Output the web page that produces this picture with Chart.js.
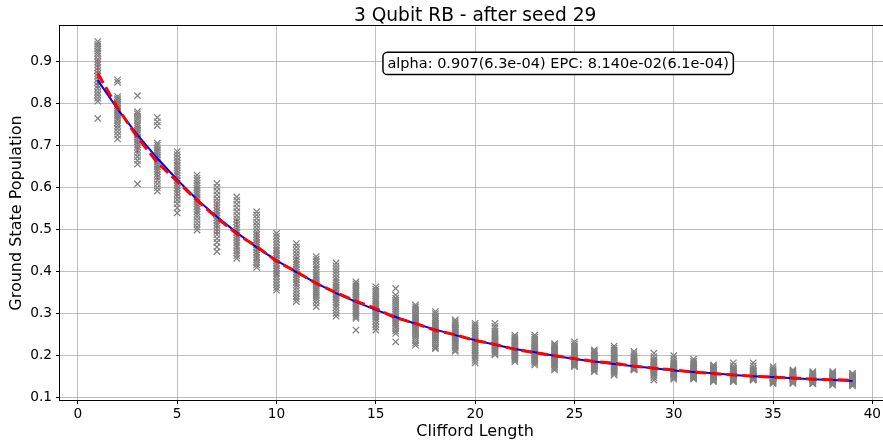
<!DOCTYPE html>
<html>
<head>
<meta charset="utf-8">
<script src="https://cdn.jsdelivr.net/npm/chart.js@4.4.1/dist/chart.umd.min.js"></script>
<style>
  html, body { margin: 0; padding: 0; background: #fff; overflow: hidden; }
</style>
</head>
<body>
<canvas id="rbChart" width="896" height="446"></canvas>
<script>
const chartTitle = '3 Qubit RB - after seed 29';
const fitLabel = 'alpha: 0.907(6.3e-04) EPC: 8.140e-02(6.1e-04)';

const cliffordLengths = [1, 2, 3, 4, 5, 6, 7, 8, 9, 10, 11, 12, 13, 14, 15, 16, 17, 18, 19, 20,
    21, 22, 23, 24, 25, 26, 27, 28, 29, 30, 31, 32, 33, 34, 35, 36, 37, 38, 39];

// one row per clifford length, all seeds
const seedValues = [
    [0.948, 0.942, 0.937, 0.931, 0.925, 0.92, 0.914, 0.906, 0.899, 0.893, 0.886, 0.879, 0.872, 0.866, 0.858, 0.851, 0.843, 0.836, 0.828, 0.821, 0.813, 0.806, 0.765],
    [0.857, 0.851, 0.817, 0.812, 0.808, 0.803, 0.799, 0.795, 0.79, 0.786, 0.782, 0.778, 0.774, 0.77, 0.765, 0.76, 0.754, 0.748, 0.741, 0.733, 0.725, 0.716],
    [0.819, 0.781, 0.776, 0.77, 0.765, 0.76, 0.754, 0.748, 0.742, 0.737, 0.731, 0.726, 0.72, 0.715, 0.709, 0.703, 0.697, 0.69, 0.682, 0.674, 0.665, 0.656, 0.609],
    [0.767, 0.757, 0.748, 0.706, 0.701, 0.695, 0.689, 0.684, 0.678, 0.672, 0.667, 0.661, 0.655, 0.65, 0.644, 0.638, 0.632, 0.625, 0.617, 0.609, 0.6, 0.592],
    [0.686, 0.679, 0.672, 0.665, 0.659, 0.653, 0.647, 0.641, 0.635, 0.629, 0.623, 0.617, 0.611, 0.605, 0.599, 0.593, 0.586, 0.579, 0.571, 0.562, 0.552, 0.54],
    [0.63, 0.623, 0.617, 0.611, 0.605, 0.599, 0.594, 0.588, 0.583, 0.577, 0.572, 0.566, 0.561, 0.555, 0.549, 0.543, 0.537, 0.53, 0.522, 0.514, 0.506, 0.499],
    [0.61, 0.601, 0.592, 0.583, 0.574, 0.566, 0.559, 0.552, 0.546, 0.54, 0.534, 0.528, 0.522, 0.516, 0.51, 0.503, 0.496, 0.488, 0.479, 0.47, 0.459, 0.448],
    [0.578, 0.57, 0.561, 0.552, 0.543, 0.534, 0.526, 0.519, 0.512, 0.505, 0.499, 0.493, 0.487, 0.481, 0.475, 0.469, 0.463, 0.457, 0.45, 0.444, 0.438, 0.432],
    [0.543, 0.535, 0.527, 0.518, 0.51, 0.502, 0.495, 0.488, 0.482, 0.476, 0.47, 0.464, 0.458, 0.452, 0.446, 0.44, 0.434, 0.428, 0.422, 0.416, 0.41],
    [0.491, 0.484, 0.477, 0.47, 0.463, 0.456, 0.45, 0.444, 0.438, 0.432, 0.426, 0.42, 0.414, 0.408, 0.402, 0.396, 0.39, 0.383, 0.376, 0.369, 0.362, 0.356],
    [0.467, 0.459, 0.451, 0.443, 0.436, 0.429, 0.423, 0.417, 0.411, 0.405, 0.399, 0.393, 0.387, 0.381, 0.375, 0.369, 0.362, 0.355, 0.348, 0.341, 0.335, 0.329],
    [0.436, 0.43, 0.424, 0.417, 0.411, 0.405, 0.399, 0.393, 0.388, 0.383, 0.378, 0.373, 0.368, 0.363, 0.358, 0.353, 0.348, 0.343, 0.338, 0.332, 0.325, 0.317],
    [0.421, 0.414, 0.407, 0.4, 0.393, 0.386, 0.38, 0.374, 0.368, 0.363, 0.358, 0.353, 0.348, 0.343, 0.338, 0.333, 0.327, 0.321, 0.315, 0.308, 0.301, 0.294],
    [0.376, 0.371, 0.366, 0.361, 0.356, 0.352, 0.348, 0.344, 0.34, 0.336, 0.332, 0.328, 0.324, 0.32, 0.316, 0.312, 0.307, 0.302, 0.297, 0.293, 0.289, 0.261],
    [0.364, 0.358, 0.353, 0.348, 0.343, 0.338, 0.334, 0.33, 0.326, 0.322, 0.318, 0.314, 0.31, 0.306, 0.302, 0.298, 0.293, 0.288, 0.282, 0.275, 0.268, 0.261],
    [0.36, 0.344, 0.337, 0.332, 0.327, 0.322, 0.317, 0.312, 0.307, 0.303, 0.299, 0.295, 0.291, 0.287, 0.283, 0.279, 0.275, 0.27, 0.265, 0.259, 0.253, 0.233],
    [0.321, 0.316, 0.311, 0.306, 0.301, 0.297, 0.293, 0.289, 0.285, 0.281, 0.277, 0.273, 0.269, 0.265, 0.261, 0.257, 0.252, 0.247, 0.242, 0.236, 0.23, 0.225],
    [0.305, 0.3, 0.295, 0.29, 0.286, 0.282, 0.278, 0.274, 0.27, 0.266, 0.262, 0.258, 0.254, 0.25, 0.246, 0.242, 0.238, 0.234, 0.229, 0.224, 0.22, 0.217],
    [0.285, 0.281, 0.277, 0.273, 0.269, 0.266, 0.263, 0.26, 0.257, 0.254, 0.251, 0.248, 0.245, 0.242, 0.239, 0.235, 0.231, 0.227, 0.223, 0.219, 0.214, 0.21],
    [0.277, 0.272, 0.267, 0.262, 0.258, 0.254, 0.25, 0.246, 0.242, 0.238, 0.234, 0.23, 0.226, 0.222, 0.218, 0.214, 0.21, 0.205, 0.2, 0.195, 0.189, 0.183],
    [0.277, 0.27, 0.264, 0.258, 0.253, 0.249, 0.245, 0.241, 0.238, 0.235, 0.232, 0.229, 0.226, 0.223, 0.22, 0.217, 0.214, 0.211, 0.208, 0.205, 0.202],
    [0.249, 0.245, 0.241, 0.238, 0.235, 0.232, 0.229, 0.226, 0.223, 0.22, 0.217, 0.214, 0.211, 0.208, 0.205, 0.202, 0.199, 0.196, 0.193, 0.19, 0.186],
    [0.249, 0.244, 0.239, 0.234, 0.23, 0.226, 0.222, 0.219, 0.216, 0.213, 0.21, 0.207, 0.204, 0.201, 0.198, 0.195, 0.192, 0.189, 0.186, 0.182, 0.178],
    [0.229, 0.226, 0.223, 0.22, 0.217, 0.214, 0.211, 0.208, 0.205, 0.202, 0.199, 0.196, 0.193, 0.19, 0.187, 0.184, 0.181, 0.178, 0.174, 0.17, 0.166],
    [0.233, 0.228, 0.223, 0.218, 0.214, 0.21, 0.207, 0.204, 0.201, 0.198, 0.195, 0.192, 0.19, 0.188, 0.186, 0.184, 0.182, 0.18, 0.178, 0.176, 0.174],
    [0.214, 0.211, 0.208, 0.205, 0.202, 0.2, 0.198, 0.195, 0.192, 0.189, 0.187, 0.185, 0.183, 0.181, 0.179, 0.177, 0.174, 0.171, 0.168, 0.165, 0.162],
    [0.223, 0.218, 0.213, 0.208, 0.204, 0.2, 0.197, 0.194, 0.191, 0.188, 0.185, 0.182, 0.179, 0.176, 0.173, 0.17, 0.167, 0.164, 0.161, 0.158, 0.154],
    [0.21, 0.205, 0.2, 0.196, 0.193, 0.19, 0.187, 0.185, 0.183, 0.181, 0.179, 0.177, 0.175, 0.173, 0.171, 0.17, 0.169, 0.168, 0.167, 0.166],
    [0.206, 0.198, 0.192, 0.188, 0.185, 0.182, 0.179, 0.177, 0.175, 0.173, 0.171, 0.169, 0.167, 0.165, 0.163, 0.161, 0.159, 0.156, 0.153, 0.148, 0.142],
    [0.2, 0.193, 0.187, 0.183, 0.18, 0.177, 0.175, 0.173, 0.171, 0.169, 0.167, 0.165, 0.163, 0.161, 0.159, 0.157, 0.155, 0.153, 0.15, 0.147, 0.144],
    [0.192, 0.187, 0.183, 0.18, 0.177, 0.174, 0.172, 0.17, 0.168, 0.166, 0.164, 0.162, 0.16, 0.158, 0.156, 0.154, 0.152, 0.15, 0.148, 0.146, 0.144],
    [0.178, 0.175, 0.172, 0.17, 0.168, 0.166, 0.164, 0.162, 0.16, 0.158, 0.157, 0.156, 0.154, 0.152, 0.15, 0.148, 0.146, 0.144, 0.142, 0.14, 0.138],
    [0.183, 0.176, 0.171, 0.168, 0.165, 0.163, 0.161, 0.159, 0.157, 0.155, 0.154, 0.153, 0.151, 0.149, 0.147, 0.145, 0.143, 0.141, 0.139, 0.138],
    [0.183, 0.176, 0.17, 0.166, 0.163, 0.161, 0.159, 0.157, 0.155, 0.153, 0.152, 0.151, 0.15, 0.149, 0.148, 0.147, 0.146, 0.145, 0.144, 0.143, 0.142],
    [0.174, 0.169, 0.165, 0.162, 0.16, 0.158, 0.156, 0.154, 0.152, 0.15, 0.149, 0.148, 0.147, 0.146, 0.145, 0.143, 0.141, 0.139, 0.137, 0.135, 0.134],
    [0.166, 0.163, 0.161, 0.159, 0.157, 0.155, 0.153, 0.151, 0.15, 0.149, 0.148, 0.147, 0.146, 0.145, 0.144, 0.142, 0.14, 0.138, 0.136, 0.134],
    [0.162, 0.159, 0.157, 0.155, 0.153, 0.151, 0.15, 0.149, 0.148, 0.147, 0.146, 0.145, 0.144, 0.143, 0.142, 0.141, 0.14, 0.138, 0.136, 0.134, 0.133],
    [0.162, 0.159, 0.156, 0.154, 0.152, 0.15, 0.149, 0.148, 0.147, 0.146, 0.145, 0.144, 0.143, 0.142, 0.141, 0.14, 0.139, 0.137, 0.135, 0.132, 0.13],
    [0.158, 0.155, 0.153, 0.151, 0.149, 0.148, 0.147, 0.146, 0.145, 0.144, 0.143, 0.142, 0.141, 0.14, 0.139, 0.138, 0.137, 0.135, 0.133, 0.131, 0.128]
];

const meanValues = [0.872, 0.79, 0.72, 0.66, 0.615, 0.57, 0.528, 0.49, 0.46, 0.425,
    0.4, 0.372, 0.35, 0.33, 0.312, 0.29, 0.277, 0.26, 0.25, 0.236,
    0.227, 0.215, 0.207, 0.2, 0.193, 0.186, 0.182, 0.175, 0.17, 0.166,
    0.161, 0.157, 0.154, 0.151, 0.149, 0.147, 0.144, 0.143, 0.141];

const stdValues = [0.035, 0.03, 0.035, 0.04, 0.037, 0.033, 0.04, 0.037, 0.034, 0.034,
    0.035, 0.03, 0.032, 0.024, 0.026, 0.025, 0.024, 0.022, 0.019, 0.023,
    0.018, 0.016, 0.018, 0.016, 0.015, 0.013, 0.017, 0.012, 0.014, 0.013,
    0.012, 0.01, 0.011, 0.01, 0.01, 0.008, 0.007, 0.008, 0.007];

const fitValues = [0.856, 0.787, 0.726, 0.670, 0.619, 0.572, 0.531, 0.493, 0.458, 0.427,
    0.399, 0.373, 0.349, 0.328, 0.309, 0.292, 0.276, 0.262, 0.249, 0.237,
    0.226, 0.216, 0.208, 0.200, 0.192, 0.186, 0.180, 0.175, 0.170, 0.165,
    0.161, 0.158, 0.154, 0.151, 0.149, 0.146, 0.144, 0.142, 0.140];

const xTicks = [0, 5, 10, 15, 20, 25, 30, 35, 40];
const yTicks = [0.1, 0.2, 0.3, 0.4, 0.5, 0.6, 0.7, 0.8, 0.9];

Chart.defaults.font.family = 'DejaVu Sans';
Chart.defaults.color = '#000';

const seedPoints = [];
seedValues.forEach((column, i) => {
    column.forEach(v => seedPoints.push({ x: cliffordLengths[i], y: v }));
});
const meanPoints = cliffordLengths.map((x, i) => ({ x: x, y: meanValues[i] }));
const fitPoints = cliffordLengths.map((x, i) => ({ x: x, y: fitValues[i] }));

// error bars under the seeds, frame, title and the fit box
const rbPlugin = {
    id: 'rbDecorations',
    beforeDatasetsDraw(chart) {
        const { ctx, scales: { x, y } } = chart;
        ctx.save();
        ctx.strokeStyle = '#ff0000';
        ctx.lineWidth = 1.5;
        cliffordLengths.forEach((len, i) => {
            const px = x.getPixelForValue(len);
            ctx.beginPath();
            ctx.moveTo(px, y.getPixelForValue(meanValues[i] - stdValues[i]));
            ctx.lineTo(px, y.getPixelForValue(meanValues[i] + stdValues[i]));
            ctx.stroke();
        });
        ctx.restore();
    },
    afterDatasetsDraw(chart) {
        const { ctx, chartArea: a } = chart;
        ctx.save();
        ctx.strokeStyle = '#000';
        ctx.lineWidth = 1;
        ctx.strokeRect(Math.round(a.left) - 0.5, Math.round(a.top) - 0.5,
            Math.round(a.right - a.left) + 1, Math.round(a.bottom - a.top) + 1);
        ctx.restore();
    },
    afterDraw(chart) {
        const { ctx, chartArea: a } = chart;
        ctx.save();
        // title centred over the axes
        ctx.font = '18.6px "DejaVu Sans"';
        ctx.fillStyle = '#000';
        ctx.textAlign = 'center';
        ctx.textBaseline = 'alphabetic';
        ctx.fillText(chartTitle, (a.left + a.right) / 2, a.top - 5.5);

        // text box at axes (0.6, 0.9)
        ctx.font = '14.5px "DejaVu Sans"';
        const cx = a.left + 0.6 * (a.right - a.left);
        const cy = a.top + 0.1 * (a.bottom - a.top);
        const w = ctx.measureText(fitLabel).width + 9;
        const h = 22.4;
        const r = 4.4;
        const bx = cx - w / 2, by = cy - h / 2;
        ctx.beginPath();
        ctx.moveTo(bx + r, by);
        ctx.arcTo(bx + w, by, bx + w, by + h, r);
        ctx.arcTo(bx + w, by + h, bx, by + h, r);
        ctx.arcTo(bx, by + h, bx, by, r);
        ctx.arcTo(bx, by, bx + w, by, r);
        ctx.closePath();
        ctx.fillStyle = '#fff';
        ctx.fill();
        ctx.lineWidth = 1.5;
        ctx.strokeStyle = '#000';
        ctx.stroke();
        ctx.fillStyle = '#000';
        ctx.textBaseline = 'middle';
        ctx.fillText(fitLabel, cx, cy + 0.5);
        ctx.restore();
    }
};

const ctx = document.getElementById('rbChart').getContext('2d');

new Chart(ctx, {
    type: 'scatter',
    data: {
        datasets: [
            {
                label: 'mean',
                data: meanPoints,
                showLine: true,
                borderColor: '#ff0000',
                borderWidth: 3,
                borderDash: [11.1, 4.8],
                pointRadius: 0,
                order: 1
            },
            {
                label: 'fit',
                data: fitPoints,
                showLine: true,
                borderColor: '#0000ff',
                borderWidth: 2,
                pointRadius: 0,
                order: 2
            },
            {
                label: 'seeds',
                data: seedPoints,
                pointStyle: 'crossRot',
                pointRadius: 4.5,
                borderColor: '#808080',
                backgroundColor: '#808080',
                borderWidth: 1.25,
                order: 3
            }
        ]
    },
    options: {
        responsive: false,
        animation: false,
        events: [],
        layout: { padding: { top: 26, left: 0, right: 0, bottom: 0 } },
        plugins: {
            legend: { display: false },
            tooltip: { enabled: false },
            title: { display: false }
        },
        scales: {
            x: {
                type: 'linear',
                min: -0.9,
                max: 40.9,
                afterBuildTicks: s => { s.ticks = xTicks.map(v => ({ value: v })); },
                afterFit: s => { s.height = 46; },
                border: { display: false },
                grid: { color: '#b0b0b0', lineWidth: 0.8, tickLength: 4, tickColor: '#000', tickWidth: 1 },
                ticks: {
                    font: { size: 13.7 },
                    padding: 2,
                    maxRotation: 0,
                    autoSkip: false,
                    callback: v => String(v)
                },
                title: {
                    display: true,
                    text: 'Clifford Length',
                    font: { size: 16 },
                    padding: { top: 0, bottom: 4.4 }
                }
            },
            y: {
                type: 'linear',
                min: 0.0945,
                max: 0.985,
                afterBuildTicks: s => { s.ticks = yTicks.map(v => ({ value: v })); },
                afterFit: s => { s.width = 60; },
                border: { display: false },
                grid: { color: '#b0b0b0', lineWidth: 0.8, tickLength: 4, tickColor: '#000', tickWidth: 1 },
                ticks: {
                    font: { size: 13.7 },
                    padding: 4,
                    autoSkip: false,
                    callback: v => v.toFixed(1)
                },
                title: {
                    display: true,
                    text: 'Ground State Population',
                    font: { size: 16 },
                    padding: { top: 7.4, bottom: 0 }
                }
            }
        }
    },
    plugins: [rbPlugin]
});
</script>
</body>
</html>
